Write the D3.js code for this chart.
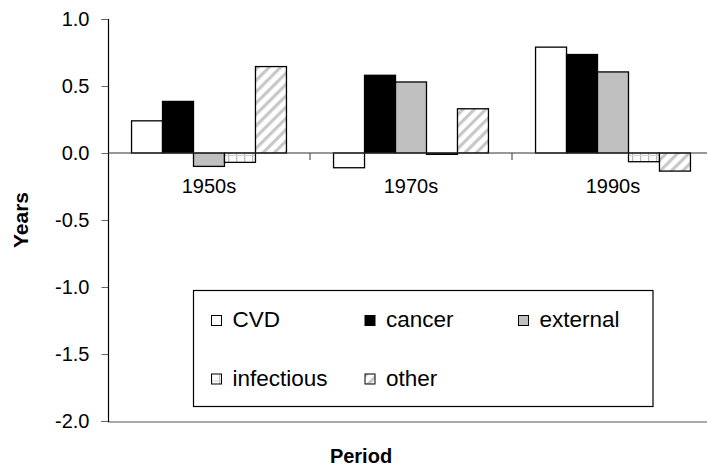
<!DOCTYPE html>
<html>
<head>
<meta charset="utf-8">
<script src="https://cdn.jsdelivr.net/npm/d3@7"></script>
<style>
  body { margin: 0; background: #fff; }
  svg { display: block; font-family: Arial, "Liberation Sans", sans-serif; }
</style>
</head>
<body>
<div id="chart"></div>
<script>
// Data
const periods = ['1950s', '1970s', '1990s'];
const causes = ['CVD', 'cancer', 'external', 'infectious', 'other'];
const cvdValues = [0.24, -0.11, 0.79];
const cancerValues = [0.385, 0.58, 0.735];
const externalValues = [-0.10, 0.53, 0.605];
const infectiousValues = [-0.07, -0.01, -0.065];
const otherValues = [0.645, 0.33, -0.135];
const yTicks = [-2.0, -1.5, -1.0, -0.5, 0.0, 0.5, 1.0];

const seriesValues = {
    CVD: cvdValues,
    cancer: cancerValues,
    external: externalValues,
    infectious: infectiousValues,
    other: otherValues
};

const width = 707;
const height = 470;
const margin = {top: 19, right: -7, bottom: 48, left: 108};
const fontSize = '20px';

const svg = d3.select('#chart')
    .append('svg')
    .attr('width', width)
    .attr('height', height);

// Patterns for hatched fills
const defs = svg.append('defs');

const grid = defs.append('pattern')
    .attr('id', 'pat-infectious')
    .attr('patternUnits', 'userSpaceOnUse')
    .attr('width', 8)
    .attr('height', 8);
grid.append('rect').attr('width', 8).attr('height', 8).attr('fill', '#fff');
grid.append('line')
    .attr('x1', 0.5).attr('x2', 0.5).attr('y1', 0).attr('y2', 8)
    .attr('stroke', '#bdbdbd').attr('stroke-width', 1.5);
grid.append('line')
    .attr('x1', 0).attr('x2', 8).attr('y1', 3.5).attr('y2', 3.5)
    .attr('stroke', '#d0d0d0').attr('stroke-width', 1);

const stripes = defs.append('pattern')
    .attr('id', 'pat-other')
    .attr('patternUnits', 'userSpaceOnUse')
    .attr('width', 8)
    .attr('height', 8)
    .attr('patternTransform', 'rotate(45)');
stripes.append('rect').attr('width', 8).attr('height', 8).attr('fill', '#fff');
stripes.append('rect')
    .attr('x', 0).attr('y', 0).attr('width', 3.2).attr('height', 8)
    .attr('fill', '#c8c8c8');

const fills = {
    CVD: '#ffffff',
    cancer: '#000000',
    external: '#c0c0c0',
    infectious: 'url(#pat-infectious)',
    other: 'url(#pat-other)'
};

// Scales
const y = d3.scaleLinear()
    .domain([-2, 1])
    .range([height - margin.bottom - 0.5 - 0.5, margin.top]);

const x0 = d3.scaleBand()
    .domain(periods)
    .range([margin.left, width - margin.right])
    .paddingInner(0)
    .paddingOuter(0);

const x1 = d3.scaleBand()
    .domain(causes)
    .range([0, x0.bandwidth()])
    .paddingInner(0)
    .paddingOuter(0.76);

// Bottom plot border
svg.append('line')
    .attr('x1', margin.left)
    .attr('x2', width - margin.right)
    .attr('y1', y(-2) + 1)
    .attr('y2', y(-2) + 1)
    .attr('stroke', '#8c8c8c')
    .attr('stroke-width', 1.5);

// Y axis
const yAxis = svg.append('g')
    .attr('transform', `translate(${margin.left},0)`)
    .call(d3.axisLeft(y)
        .tickValues(yTicks)
        .tickFormat(d => d.toFixed(1))
        .tickSize(6.5)
        .tickPadding(12));
yAxis.select('.domain').attr('stroke', '#000').attr('stroke-width', 1.2);
yAxis.selectAll('.tick line').attr('stroke', '#666');
yAxis.selectAll('.tick text')
    .attr('fill', '#000')
    .style('font-size', fontSize)
    .style('font-family', 'Arial, "Liberation Sans", sans-serif');

// Bars
const groups = svg.append('g')
    .selectAll('g')
    .data(periods)
    .join('g')
    .attr('transform', d => `translate(${x0(d)},0)`);

groups.selectAll('rect')
    .data((p, i) => causes.map(c => ({cause: c, value: seriesValues[c][i]})))
    .join('rect')
    .attr('x', d => x1(d.cause))
    .attr('y', d => y(Math.max(0, d.value)))
    .attr('width', x1.bandwidth())
    .attr('height', d => Math.abs(y(d.value) - y(0)))
    .attr('fill', d => fills[d.cause])
    .attr('stroke', '#000')
    .attr('stroke-width', 1.3);

// Zero axis with group ticks
const xAxis = svg.append('g')
    .attr('transform', `translate(0,${y(0)})`);
xAxis.append('line')
    .attr('x1', margin.left)
    .attr('x2', width - margin.right)
    .attr('stroke', '#333')
    .attr('stroke-width', 1.2);
xAxis.selectAll('line.gtick')
    .data(periods.slice(1).concat(['end']))
    .join('line')
    .attr('class', 'gtick')
    .attr('x1', d => d === 'end' ? width - margin.right : x0(d))
    .attr('x2', d => d === 'end' ? width - margin.right : x0(d))
    .attr('y1', 0)
    .attr('y2', 7)
    .attr('stroke', '#555')
    .attr('stroke-width', 1.2);
xAxis.selectAll('text')
    .data(periods)
    .join('text')
    .attr('x', d => x0(d) + x0.bandwidth() / 2)
    .attr('y', 39.5)
    .attr('text-anchor', 'middle')
    .style('font-size', fontSize)
    .text(d => d);

// Axis titles
svg.append('text')
    .attr('transform', `translate(28,220) rotate(-90)`)
    .attr('text-anchor', 'middle')
    .style('font-size', '21px')
    .style('font-weight', 'bold')
    .text('Years');

svg.append('text')
    .attr('x', 361)
    .attr('y', 463)
    .attr('text-anchor', 'middle')
    .style('font-size', fontSize)
    .style('font-weight', 'bold')
    .text('Period');

// Legend
const legend = svg.append('g');
legend.append('rect')
    .attr('x', 193.5)
    .attr('y', 290.5)
    .attr('width', 459.5)
    .attr('height', 116)
    .attr('fill', '#fff')
    .attr('stroke', '#000')
    .attr('stroke-width', 1.2);

const legendCols = [211, 364.5, 518];
const legendRows = [327, 385.5];

const items = legend.selectAll('g.item')
    .data(causes)
    .join('g')
    .attr('class', 'item')
    .attr('transform', (d, i) => `translate(${legendCols[i % 3]},${legendRows[Math.floor(i / 3)]})`);

items.append('rect')
    .attr('x', 0.5)
    .attr('y', -11.5)
    .attr('width', 10)
    .attr('height', 10)
    .attr('fill', d => fills[d])
    .attr('stroke', '#000')
    .attr('stroke-width', 1);

items.append('text')
    .attr('x', 21.5)
    .attr('y', 0)
    .style('font-size', '22.5px')
    .text(d => d);
</script>
</body>
</html>
